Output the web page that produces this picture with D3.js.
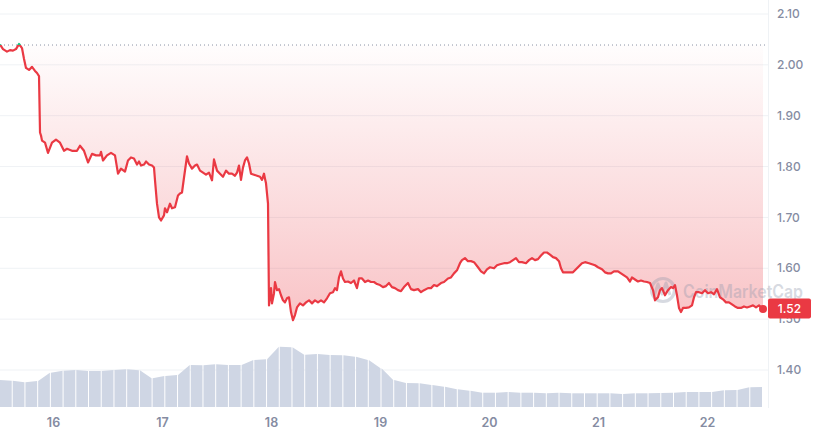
<!DOCTYPE html>
<html><head><meta charset="utf-8">
<script src="https://cdn.jsdelivr.net/npm/d3@7/dist/d3.min.js"></script>
<style>html,body{margin:0;padding:0;background:#fff;}svg{display:block;font-family:Inter,"Noto Sans",sans-serif;}</style>
</head><body><svg id="c" width="814" height="435"></svg>
<script>
// ---- data ----
const startTime = new Date(2023, 0, 15, 12, 20);
const openPrice = 2.039;
const lastPrice = 1.52;
const dayLabels = ["16","17","18","19","20","21","22"];
const priceTicks = [1.40,1.50,1.60,1.70,1.80,1.90,2.00,2.10];
// [hours since start, price]
const priceSeries = [[0,2.040],[0.66,2.031],[1.54,2.026],[2.2,2.029],[2.86,2.028],[3.52,2.031],[4.18,2.041],[4.84,2.033],[5.28,2.012],[5.72,1.994],[6.39,1.990],[7.05,1.996],[7.71,1.988],[8.15,1.984],[8.59,1.978],[8.81,1.867],[9.03,1.861],[9.25,1.851],[9.91,1.847],[10.57,1.827],[11.45,1.847],[12.33,1.853],[13.21,1.847],[14.09,1.831],[14.75,1.835],[15.85,1.831],[16.95,1.831],[17.61,1.841],[18.5,1.831],[19.38,1.808],[20.26,1.825],[21.14,1.822],[22.02,1.822],[22.24,1.829],[22.68,1.812],[23.56,1.822],[24.44,1.827],[25.32,1.822],[25.98,1.786],[26.64,1.796],[27.52,1.790],[28.18,1.812],[28.84,1.818],[29.5,1.816],[30.16,1.804],[30.6,1.810],[31.05,1.802],[31.71,1.804],[32.15,1.810],[32.81,1.804],[33.47,1.802],[33.91,1.798],[34.13,1.773],[34.57,1.727],[35.01,1.700],[35.45,1.694],[36.11,1.704],[36.33,1.718],[36.77,1.710],[37.43,1.727],[37.87,1.718],[38.53,1.720],[39.19,1.743],[39.63,1.747],[40.07,1.749],[40.51,1.778],[40.95,1.806],[41.17,1.820],[41.61,1.806],[42.27,1.796],[42.94,1.802],[43.38,1.804],[44.04,1.792],[44.7,1.788],[45.36,1.784],[46.02,1.788],[46.68,1.773],[47.12,1.814],[47.78,1.792],[48.44,1.786],[49.1,1.780],[49.76,1.792],[50.42,1.786],[51.08,1.786],[51.74,1.782],[52.18,1.788],[52.62,1.802],[53.06,1.774],[53.5,1.798],[53.94,1.812],[54.39,1.818],[54.83,1.806],[55.27,1.786],[55.93,1.784],[56.59,1.782],[57.25,1.780],[57.69,1.774],[58.13,1.786],[58.35,1.776],[58.57,1.767],[59.01,1.727],[59.23,1.527],[59.67,1.561],[59.89,1.531],[60.33,1.551],[60.55,1.573],[60.99,1.557],[61.43,1.559],[61.87,1.547],[62.31,1.537],[62.75,1.533],[63.19,1.541],[63.63,1.543],[64.07,1.514],[64.51,1.498],[64.95,1.508],[65.39,1.523],[66.05,1.531],[66.71,1.527],[67.38,1.533],[68.04,1.537],[68.7,1.531],[69.36,1.537],[70.02,1.533],[70.68,1.537],[71.34,1.533],[72.0,1.541],[72.66,1.551],[73.32,1.553],[73.76,1.561],[74.2,1.557],[74.64,1.582],[75.08,1.594],[75.52,1.580],[75.96,1.573],[76.62,1.574],[77.28,1.571],[77.94,1.576],[78.6,1.561],[79.05,1.580],[79.71,1.580],[80.37,1.573],[81.03,1.576],[81.69,1.573],[82.35,1.573],[83.01,1.569],[83.67,1.567],[84.33,1.563],[84.99,1.565],[85.65,1.571],[86.31,1.563],[86.97,1.561],[87.63,1.557],[88.29,1.555],[88.95,1.563],[89.83,1.571],[90.49,1.559],[91.15,1.557],[92.04,1.559],[92.7,1.553],[93.36,1.557],[94.24,1.561],[94.9,1.561],[95.56,1.567],[96.22,1.565],[97.1,1.571],[97.76,1.573],[98.64,1.580],[99.3,1.582],[99.96,1.590],[100.62,1.596],[101.28,1.610],[101.72,1.616],[102.38,1.620],[103.04,1.614],[103.71,1.614],[104.37,1.612],[105.25,1.602],[105.91,1.594],[106.57,1.590],[107.23,1.598],[107.89,1.602],[108.77,1.600],[109.43,1.606],[110.09,1.608],[110.97,1.610],[111.63,1.610],[112.29,1.612],[112.95,1.616],[113.61,1.620],[114.27,1.612],[114.93,1.612],[115.81,1.610],[116.48,1.616],[117.14,1.620],[117.8,1.616],[118.46,1.618],[119.12,1.625],[119.78,1.631],[120.44,1.631],[121.1,1.627],[121.76,1.622],[122.42,1.620],[123.08,1.614],[123.52,1.600],[123.96,1.592],[124.62,1.592],[125.5,1.592],[126.16,1.592],[126.82,1.598],[127.48,1.604],[128.14,1.610],[128.81,1.612],[129.69,1.610],[130.35,1.608],[131.01,1.606],[131.67,1.602],[132.55,1.598],[133.21,1.592],[133.87,1.590],[134.53,1.590],[135.19,1.594],[136.07,1.594],[136.73,1.590],[137.39,1.586],[138.05,1.582],[138.71,1.574],[139.15,1.582],[139.81,1.578],[140.47,1.574],[141.13,1.576],[141.8,1.574],[142.46,1.573],[143.12,1.571],[143.78,1.557],[144.22,1.537],[144.88,1.543],[145.32,1.557],[145.76,1.561],[146.42,1.547],[147.08,1.557],[147.74,1.563],[148.18,1.561],[148.62,1.567],[149.06,1.547],[149.5,1.522],[149.94,1.514],[150.38,1.522],[151.04,1.522],[151.7,1.523],[152.36,1.527],[152.81,1.543],[153.25,1.553],[153.91,1.553],[154.57,1.551],[155.23,1.557],[155.89,1.551],[156.55,1.553],[157.21,1.549],[157.87,1.559],[158.53,1.543],[159.19,1.539],[159.85,1.533],[160.51,1.533],[161.17,1.529],[161.83,1.525],[162.49,1.522],[163.15,1.522],[163.81,1.525],[164.47,1.523],[165.14,1.525],[165.8,1.527],[166.46,1.523],[167.12,1.527],[168,1.520]];
// volume (M) at bar boundaries, every 2.8 hours
const volumeHoursStep = 2.8;
const volumeValues = [27.0,26.3,24.7,26.0,34.3,36.3,37.0,36.0,36.0,37.0,37.7,36.7,28.7,31.0,32.0,42.0,41.7,42.7,42.0,42.0,47.0,47.7,60.3,59.7,52.3,53.0,52.0,51.7,50.3,47.0,38.7,27.0,24.0,23.7,22.0,20.3,17.7,16.3,14.3,14.3,15.0,14.3,14.3,13.7,14.3,13.7,13.7,13.7,13.7,13.0,13.7,13.7,14.0,14.3,15.0,15.0,15.0,16.7,17.0,19.7,20.0];

// ---- scales ----
const H = 3600e3;
const toDate = h => new Date(startTime.getTime() + h * H);
const endTime = toDate(168);
const plotRight = 763;
const x = d3.scaleTime().domain([startTime, endTime]).range([0, plotRight]);
const y = d3.scaleLinear().domain([1.40, 2.10]).range([370, 14]);
const yVol = d3.scaleLinear().domain([0, 70]).range([407, 337]);

const red = "#ea3943", green = "#16c784";
const svg = d3.select("#c");
const defs = svg.append("defs");
const baseY = y(openPrice);
const pts = priceSeries.map(d => ({t: toDate(d[0]), v: d[1]}));

// gridlines
svg.append("g").selectAll("line").data(priceTicks).join("line")
  .attr("x1", 0).attr("x2", 768).attr("y1", d => y(d)).attr("y2", d => y(d))
  .attr("stroke", "#eff2f5").attr("stroke-width", 1);
svg.append("line").attr("x1", 768.5).attr("x2", 768.5).attr("y1", 0).attr("y2", 408)
  .attr("stroke", "#eff2f5");

// volume bars
const volG = svg.append("g");
for (let i = 0; i < volumeValues.length - 1; i++) {
  const x0 = x(toDate(i * volumeHoursStep)), x1 = x(toDate((i + 1) * volumeHoursStep));
  const v0 = volumeValues[i], v1 = volumeValues[i + 1];
  volG.append("path")
    .attr("d", `M${x0},${yVol(0)}L${x0},${yVol(v0)}L${x1 - 1},${yVol(v1)}L${x1 - 1},${yVol(0)}Z`)
    .attr("fill", "#cfd6e4");
}

// clip paths
defs.append("clipPath").attr("id", "below").append("rect").attr("x", 0).attr("y", baseY).attr("width", 800).attr("height", 400);
defs.append("clipPath").attr("id", "above").append("rect").attr("x", 0).attr("y", 0).attr("width", 800).attr("height", baseY);

const gradR = defs.append("linearGradient").attr("id", "gr").attr("gradientUnits", "userSpaceOnUse")
  .attr("x1", 0).attr("x2", 0).attr("y1", baseY).attr("y2", y(1.50));
gradR.append("stop").attr("offset", 0).attr("stop-color", red).attr("stop-opacity", 0.01);
gradR.append("stop").attr("offset", 1).attr("stop-color", red).attr("stop-opacity", 0.3);
const gradG = defs.append("linearGradient").attr("id", "gg").attr("gradientUnits", "userSpaceOnUse")
  .attr("x1", 0).attr("x2", 0).attr("y1", baseY).attr("y2", baseY - 20);
gradG.append("stop").attr("offset", 0).attr("stop-color", green).attr("stop-opacity", 0.01);
gradG.append("stop").attr("offset", 1).attr("stop-color", green).attr("stop-opacity", 0.2);

const area = d3.area().x(d => x(d.t)).y0(baseY).y1(d => y(d.v));
svg.append("path").datum(pts).attr("d", area).attr("fill", "url(#gr)").attr("clip-path", "url(#below)");
svg.append("path").datum(pts).attr("d", area).attr("fill", "url(#gg)").attr("clip-path", "url(#above)");

// baseline dotted
svg.append("line").attr("x1", 0).attr("x2", 767).attr("y1", baseY).attr("y2", baseY)
  .attr("stroke", "#8a91a5").attr("stroke-width", 1).attr("stroke-dasharray", "1,3");

// watermark
const wm = svg.append("g").attr("opacity", 0.35);
wm.append("circle").attr("cx", 663).attr("cy", 290).attr("r", 11.5).attr("fill", "none").attr("stroke", "#8f97ab").attr("stroke-width", 3.2);
wm.append("path").attr("d", "M654,296 L658,284 L662,294 L666,283 L670,295").attr("fill", "none").attr("stroke", "#8f97ab").attr("stroke-width", 3).attr("stroke-linejoin", "round");
wm.append("text").attr("x", 683).attr("y", 298).attr("font-size", 18).attr("font-weight", 600)
  .attr("textLength", 120).attr("lengthAdjust", "spacingAndGlyphs")
  .attr("fill", "#8f97ab").text("CoinMarketCap");

// line
const line = d3.line().x(d => x(d.t)).y(d => y(d.v));
svg.append("path").datum(pts).attr("d", line).attr("fill", "none").attr("stroke", red)
  .attr("stroke-width", 2.2).attr("stroke-linejoin", "round").attr("clip-path", "url(#below)");
svg.append("path").datum(pts).attr("d", line).attr("fill", "none").attr("stroke", green)
  .attr("stroke-width", 2.2).attr("stroke-linejoin", "round").attr("clip-path", "url(#above)");

// end dot
const last = pts[pts.length - 1];
svg.append("circle").attr("cx", x(last.t)).attr("cy", y(last.v)).attr("r", 4).attr("fill", red);

// y labels
svg.append("g").selectAll("text").data(priceTicks).join("text")
  .attr("x", 777).attr("y", d => y(d)).attr("dy", "0.35em")
  .attr("font-size", 12).attr("font-weight", 500).attr("fill", "#858ca2")
  .text(d => d3.format(".2f")(d));

// price tag
svg.append("rect").attr("x", 768).attr("y", y(lastPrice) - 10.5).attr("width", 43).attr("height", 20)
  .attr("rx", 2).attr("fill", red);
svg.append("text").attr("x", 789.5).attr("y", y(lastPrice)).attr("dy", "0.35em").attr("text-anchor", "middle")
  .attr("font-size", 12).attr("font-weight", 500).attr("fill", "#fff").text(d3.format(".2f")(lastPrice));

// x axis
const dayTicks = d3.timeDay.range(d3.timeDay.ceil(startTime), endTime);
const xAxis = d3.axisBottom(x).tickValues(dayTicks).tickSize(0).tickPadding(0)
  .tickFormat((d, i) => dayLabels[i]);
const gx = svg.append("g").attr("transform", "translate(0,418)").call(xAxis);
gx.select(".domain").remove();
gx.selectAll("text").attr("font-size", 12.5).attr("font-weight", 600).attr("fill", "#858ca2")
  .attr("font-family", "Inter, sans-serif");
</script></body></html>
